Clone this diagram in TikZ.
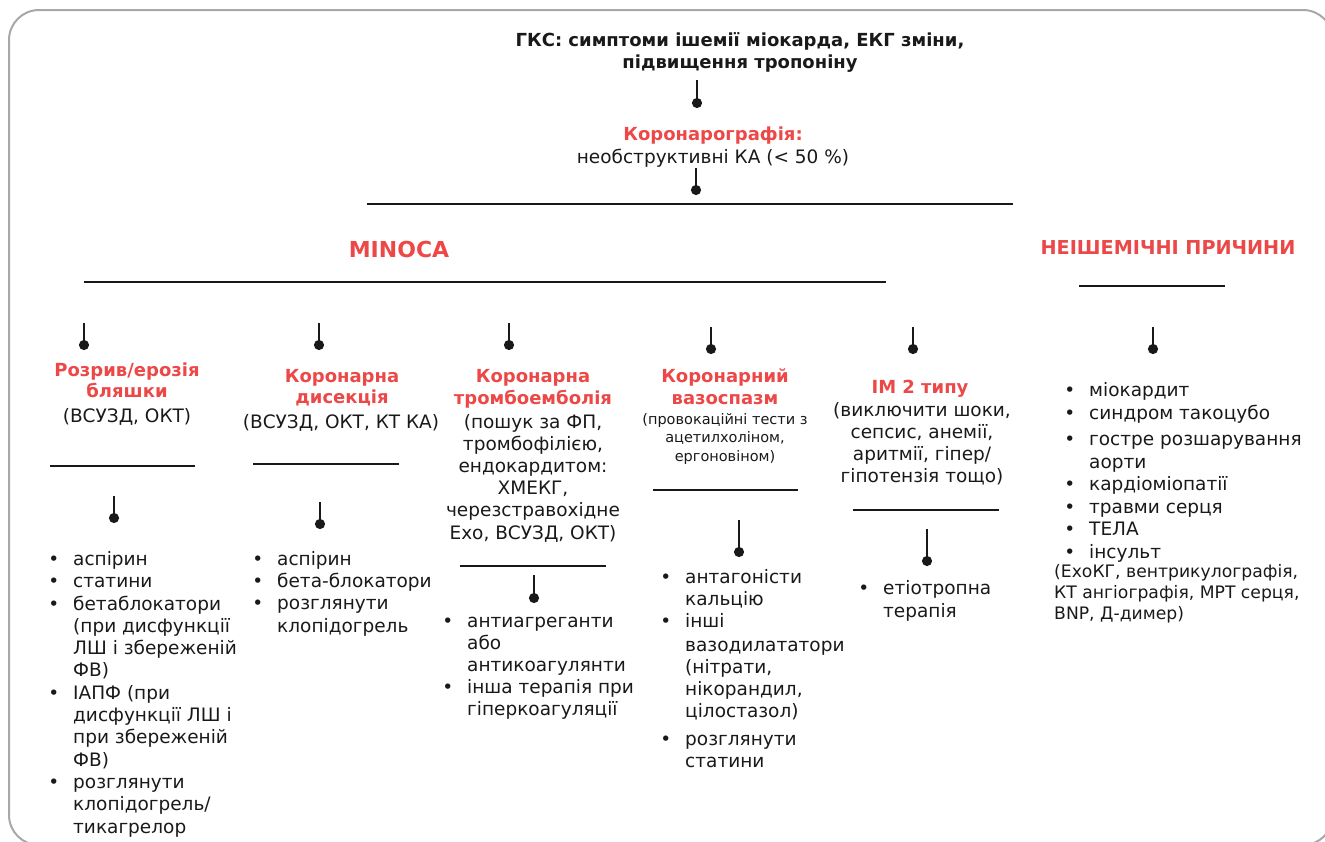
\documentclass[tikz,border=0pt]{standalone}
\usepackage{fontspec}
\setmainfont{DejaVu Sans}
\usetikzlibrary{arrows.meta,positioning}
\definecolor{minocared}{RGB}{237,72,72}
\definecolor{framegray}{RGB}{168,168,172}
\definecolor{inkblack}{RGB}{25,25,25}
\newcommand{\bl}{\llap{\textbullet\hspace{14pt}}}
\tikzset{
  stem/.style    ={line width=2.2pt, draw=inkblack, -{Circle[length=10pt]}},
  hrule/.style   ={line width=2pt, draw=inkblack},
  redhead/.style ={font=\fontsize{18}{21}\selectfont\bfseries, text=minocared,
                   align=center, anchor=base, inner sep=0pt},
  bighead/.style ={font=\fontsize{22}{26}\selectfont\bfseries, text=minocared,
                   anchor=base, inner sep=0pt},
  note/.style    ={font=\fontsize{18.5}{22}\selectfont, text=inkblack, align=center,
                   anchor=base, inner sep=0pt},
  smallnote/.style={note, font=\fontsize{14.5}{18.5}\selectfont},
  blist/.style   ={font=\fontsize{18.5}{22.3}\selectfont, text=inkblack, align=left,
                   anchor=base west, inner sep=0pt}
}

\begin{document}
\begin{tikzpicture}[x=1pt, y=-1pt]
\useasboundingbox (0,0) rectangle (1325,841);
\draw[framegray, line width=2pt, rounded corners=30pt] (9,10) rectangle (1333,845);

% ---- Top (nodes sit on the baseline of their last line) ----
\node[note, font=\fontsize{18}{22}\selectfont\bfseries] (acs) at (740,68)
  {ГКС: симптоми ішемії міокарда, ЕКГ зміни,\\підвищення тропоніну};
\node[redhead] (cag) at (713,140) {Коронарографія:};
\node[note] (cagtx) at (713,163) {необструктивні КА (< 50 \%)};
\node[bighead] (minoca) at (399,257) {MINOCA};
\node[bighead, font=\fontsize{19.2}{24}\selectfont\bfseries] (nonisch) at (1168,254)
  {НЕІШЕМІЧНІ ПРИЧИНИ};

% ---- MINOCA causes ----
\node[redhead] (plaque) at (127,397) {Розрив/ерозія\\бляшки};
\node[note] (plaquetx) at (127,422) {(ВСУЗД, ОКТ)};
\node[redhead] (dissect) at (342,403) {Коронарна\\дисекція};
\node[note] (dissecttx) at (341,428) {(ВСУЗД, ОКТ, КТ КА)};
\node[redhead, font=\fontsize{18}{22}\selectfont\bfseries] (embol) at (533,404)
  {Коронарна\\тромбоемболія};
\node[note, font=\fontsize{18.5}{22.2}\selectfont] (emboltx) at (533,539)
  {(пошук за ФП,\\тромбофілією,\\ендокардитом:\\ХМЕКГ,\\черезстравохідне\\Ехо, ВСУЗД, ОКТ)};
\node[redhead, font=\fontsize{18}{22}\selectfont\bfseries] (spasm) at (725,404)
  {Коронарний\\вазоспазм};
\node[smallnote] (spasmtx) at (725,461)
  {(провокаційні тести з\\ацетилхоліном,\\ергоновіном)};
\node[redhead] (mitwo) at (920,393) {ІМ 2 типу};
\node[note, font=\fontsize{18.5}{21.7}\selectfont] (mitwotx) at (922,482)
  {(виключити шоки,\\сепсис, анемії,\\аритмії, гіпер/\\гіпотензія тощо)};

% ---- Treatment lists ----
\node[blist] (plaquerx) at (73,833)
  {\bl аспірин\\\bl статини\\\bl бетаблокатори\\(при дисфункції\\ЛШ і збереженій\\ФВ)\\
   \bl ІАПФ (при\\дисфункції ЛШ і\\при збереженій\\ФВ)\\\bl розглянути\\клопідогрель/\\тикагрелор};
\node[blist] (dissectrx) at (277,632)
  {\bl аспірин\\\bl бета-блокатори\\\bl розглянути\\клопідогрель};
\node[blist, font=\fontsize{18.5}{21.8}\selectfont] (embolrx) at (467,715)
  {\bl антиагреганти\\або\\антикоагулянти\\\bl інша терапія при\\гіперкоагуляції};
\node[blist, font=\fontsize{18.5}{22}\selectfont] (spasmrx) at (685,767)
  {\bl антагоністи\\кальцію\\\bl інші\\[2pt]вазодилататори\\(нітрати,\\нікорандил,\\цілостазол)\\[6pt]
   \bl розглянути\\статини};
\node[blist] (mitworx) at (883,617) {\bl етіотропна\\терапія};
\node[blist, font=\fontsize{18.5}{22.5}\selectfont] (nonischrx) at (1089,558)
  {\bl міокардит\\\bl синдром такоцубо\\[4pt]\bl гостре розшарування\\аорти\\\bl кардіоміопатії\\
   \bl травми серця\\\bl ТЕЛА\\\bl інсульт};
\node[blist, font=\fontsize{17.2}{21}\selectfont] (nonischtx) at (1054,619)
  {(ЕхоКГ, вентрикулографія,\\КТ ангіографія, МРТ серця,\\BNP, Д-димер)};

% ---- Rules ----
\foreach \nm/\xa/\xb/\y in {split/367/1013/204, minocabar/84/886/282, nonischbar/1079/1225/286,
    plaquebar/50/195/466, dissectbar/253/399/464, embolbar/460/606/566,
    spasmbar/653/798/490, mitwobar/853/999/510}
  \draw[hrule] (\xa,\y) coordinate (\nm W) -- (\xb,\y) coordinate (\nm E);

% ---- Stems ----
\foreach \nm/\x/\ya/\yb in {acsstem/697/80/103, cagstem/696/168/190,
    plaquestem/84/323/345, dissectstem/319/323/345, embolstem/509/323/345,
    spasmstem/711/327/349, mitwostem/913/327/349, nonischstem/1153/327/349,
    plaquerxstem/114/496/518, dissectrxstem/320/502/524, embolrxstem/534/575/598,
    spasmrxstem/739/520/552, mitworxstem/927/529/561}
{
  \coordinate (\nm top) at (\x,\ya);
  \coordinate (\nm dot) at (\x,\yb+5);
  \draw[stem] (\nm top) -- (\nm dot);
}
\end{tikzpicture}
\end{document}
